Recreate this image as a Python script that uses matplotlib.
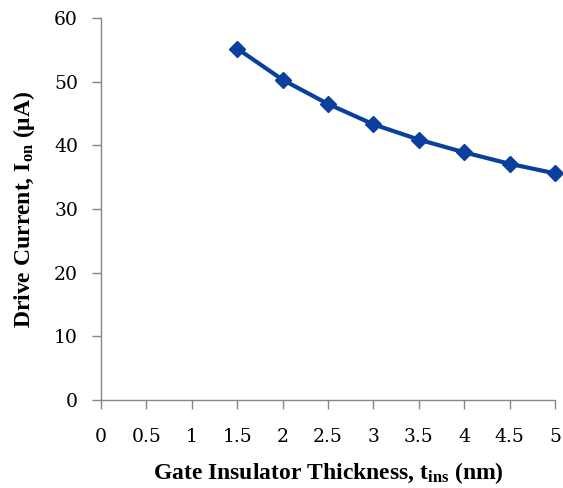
import numpy as np
import matplotlib
matplotlib.use('Agg')
import matplotlib.pyplot as plt

plt.rcParams['font.family'] = 'Liberation Serif'
plt.rcParams['mathtext.fontset'] = 'custom'
plt.rcParams['mathtext.rm'] = 'Liberation Serif:bold'
plt.rcParams['mathtext.it'] = 'Liberation Serif:bold'

# data
t_ins = [1.5, 2.0, 2.5, 3.0, 3.5, 4.0, 4.5, 5.0]
i_on = [55.2, 50.3, 46.5, 43.3, 40.9, 38.9, 37.1, 35.6]

xticks = [0, 0.5, 1, 1.5, 2, 2.5, 3, 3.5, 4, 4.5, 5]
xticklabels = ['0', '0.5', '1', '1.5', '2', '2.5', '3', '3.5', '4', '4.5', '5']
yticks = [0, 10, 20, 30, 40, 50, 60]

fig = plt.figure(figsize=(5.63, 4.88), dpi=100)
ax = fig.add_axes([101/563, 1-400/488, (555-101)/563, (400-18)/488])

ax.plot(t_ins, i_on, color='#0a3f9e', lw=3.0, marker='D', ms=8.5, zorder=3, clip_on=False)

ax.set_xlim(0, 5)
ax.set_ylim(0, 60)
ax.set_xticks(xticks)
ax.set_xticklabels(xticklabels, family='DejaVu Serif')
ax.set_yticks(yticks)
ax.set_yticklabels([str(v) for v in yticks], family='DejaVu Serif')

for s in ['top', 'right']:
    ax.spines[s].set_visible(False)
for s in ['left', 'bottom']:
    ax.spines[s].set_color('#868686')
    ax.spines[s].set_linewidth(1.0)
ax.tick_params(axis='both', colors='#868686', labelcolor='black', labelsize=13.5, length=6.5, width=1.0)
ax.tick_params(axis='x', pad=14)
ax.tick_params(axis='y', pad=10)

ax.set_xlabel(r'Gate Insulator Thickness, t$_{\mathregular{ins}}$ (nm)', fontsize=17, fontweight='bold', labelpad=10)
ax.set_ylabel(r'Drive Current, I$_{\mathregular{on}}$ ($\mathregular{\mu}$A)', fontsize=17, fontweight='bold', labelpad=12)

fig.savefig('out.png', dpi=100)
